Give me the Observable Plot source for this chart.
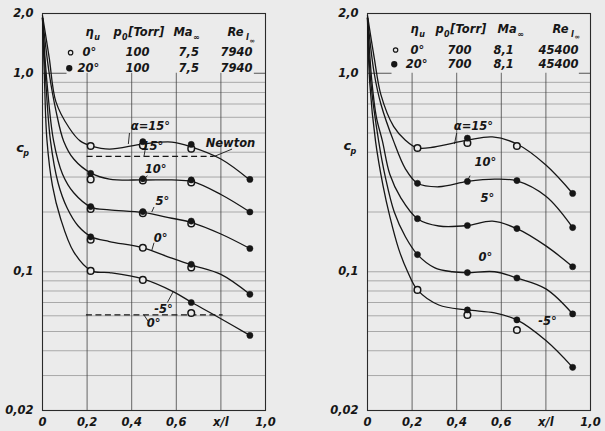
<!DOCTYPE html>
<html><head><meta charset="utf-8">
<script src="https://cdn.jsdelivr.net/npm/d3@7"></script>
<script src="https://cdn.jsdelivr.net/npm/@observablehq/plot@0.6"></script>
<style>
html,body{margin:0;padding:0;background:#ebebeb;}
#wrap{display:flex;width:605px;height:431px;overflow:hidden;}
svg{display:block;}
</style></head><body><div id="wrap"></div>
<script>
// ---------- shared ----------
const alphas = ["15°","10°","5°","0°","-5°"];
const xTickValues = [0, 0.2, 0.4, 0.6, 0.8, 1.0];
const xTickLabels = ["0", "0,2", "0,4", "0,6", "x/l", "1,0"];
const yTickValues = [0.02, 0.1, 1.0, 2.0];
const yTickLabels = ["0,02", "0,1", "1,0", "2,0"];
const minorGrid = [0.03,0.04,0.05,0.06,0.07,0.08,0.09,0.1,0.2,0.3,0.4,0.5,0.6,0.7,0.8,0.9];
const vGrid = [0.2, 0.4, 0.6, 0.8];

// ---------- left panel (p0 = 100 Torr) ----------
const leftCurve15 = [[0,1.95],[0.03,1.2],[0.06,0.72],[0.12,0.53],[0.17,0.455],[0.22,0.43],[0.3,0.415],[0.45,0.44],[0.58,0.45],[0.67,0.425],[0.8,0.37],[0.93,0.29]];
const leftCurve10 = [[0,1.9],[0.03,1.0],[0.06,0.65],[0.095,0.455],[0.14,0.37],[0.22,0.313],[0.3,0.293],[0.45,0.29],[0.58,0.29],[0.67,0.285],[0.8,0.245],[0.93,0.2]];
const leftCurve5  = [[0,1.9],[0.02,0.9],[0.05,0.455],[0.09,0.31],[0.14,0.25],[0.22,0.211],[0.3,0.205],[0.45,0.199],[0.58,0.186],[0.67,0.177],[0.8,0.155],[0.93,0.131]];
const leftCurve0  = [[0,1.9],[0.015,0.9],[0.036,0.455],[0.07,0.28],[0.11,0.21],[0.16,0.17],[0.22,0.15],[0.3,0.142],[0.45,0.132],[0.58,0.117],[0.67,0.108],[0.8,0.097],[0.93,0.077]];
const leftCurveM5 = [[0,1.9],[0.008,1.0],[0.02,0.46],[0.045,0.27],[0.08,0.187],[0.14,0.126],[0.22,0.101],[0.3,0.099],[0.45,0.092],[0.59,0.079],[0.67,0.07],[0.8,0.058],[0.93,0.0478]];
const leftMarkX = [0.216, 0.45, 0.667, 0.93];
const leftOpen = [
  [0.43, 0.432, 0.417, null],
  [0.292, 0.288, 0.282, null],
  [0.207, 0.197, 0.175, null],
  [0.145, 0.132, 0.105, null],
  [0.101, 0.091, 0.062, null]];
const leftFilled = [
  [null, 0.452, 0.438, 0.292],
  [0.313, 0.294, 0.29, 0.2],
  [0.213, 0.201, 0.18, 0.131],
  [0.15, null, 0.109, 0.077],
  [null, null, 0.07, 0.0478]];
const leftNewtonY = [0.381, 0.0606];
const leftNewtonX1 = [0.2, 0.197];
const leftNewtonX2 = [0.77, 0.81];
const leftLegendRows = [["0°","100","7,5","7940"],["20°","100","7,5","7940"]];
const leftCurveLabels = ["α=15°","10°","5°","0°","-5°","15°","0°","Newton"];
const leftCurveLabelX = [0.484, 0.507, 0.538, 0.53, 0.543, 0.493, 0.498, 0.843];
const leftCurveLabelY = [0.54, 0.327, 0.226, 0.147, 0.0646, 0.428, 0.055, 0.442];
const leftLeaders = [[0.39,0.5,0.385,0.44],[0.47,0.305,0.455,0.29],[0.5,0.212,0.49,0.2],[0.5,0.14,0.49,0.128],[0.56,0.07,0.585,0.079],[0.455,0.0606,0.475,0.056],[0.46,0.41,0.455,0.381],[0.85,0.415,0.77,0.381]];

// ---------- right panel (p0 = 700 Torr) ----------
const rightCurve15 = [[0,1.95],[0.03,1.2],[0.06,0.78],[0.117,0.54],[0.17,0.46],[0.224,0.42],[0.3,0.425],[0.448,0.46],[0.56,0.478],[0.67,0.44],[0.8,0.345],[0.92,0.248]];
const rightCurve10 = [[0,1.9],[0.03,1.0],[0.06,0.7],[0.117,0.455],[0.17,0.33],[0.224,0.279],[0.32,0.268],[0.448,0.285],[0.57,0.293],[0.67,0.287],[0.8,0.24],[0.92,0.167]];
const rightCurve5  = [[0,1.9],[0.02,0.9],[0.04,0.6],[0.067,0.455],[0.1,0.31],[0.15,0.235],[0.224,0.185],[0.32,0.17],[0.448,0.171],[0.56,0.18],[0.67,0.165],[0.8,0.135],[0.92,0.106]];
const rightCurve0  = [[0,1.9],[0.015,0.9],[0.05,0.455],[0.08,0.3],[0.12,0.2],[0.17,0.15],[0.224,0.122],[0.3,0.105],[0.38,0.1],[0.448,0.099],[0.57,0.1],[0.67,0.093],[0.8,0.082],[0.92,0.0613]];
const rightCurveM5 = [[0,1.9],[0.01,0.9],[0.036,0.455],[0.07,0.27],[0.1,0.19],[0.14,0.13],[0.18,0.1],[0.224,0.081],[0.32,0.068],[0.448,0.0642],[0.57,0.062],[0.67,0.0572],[0.8,0.045],[0.92,0.033]];
const rightMarkX = [0.224, 0.448, 0.67, 0.92];
const rightOpen = [
  [0.42, 0.445, 0.43, null],
  [null, null, null, null],
  [null, null, null, null],
  [null, null, null, null],
  [0.081, 0.0606, 0.0509, null]];
const rightFilled = [
  [null, 0.471, null, 0.248],
  [0.279, 0.285, 0.288, 0.167],
  [0.185, 0.171, 0.165, 0.106],
  [0.122, 0.099, 0.093, 0.0613],
  [null, 0.0642, 0.0572, 0.033]];
const rightLegendRows = [["0°","700","8,1","45400"],["20°","700","8,1","45400"]];
const rightCurveLabels = ["α=15°","10°","5°","0°","-5°"];
const rightCurveLabelX = [0.475, 0.529, 0.538, 0.529, 0.807];
const rightCurveLabelY = [0.54, 0.355, 0.234, 0.118, 0.0561];
const rightLeaders = [[0.4,0.5,0.39,0.44],[0.46,0.305,0.45,0.29]];

// legend table layout (shared, data units)
const legendHeadX = [0.193, 0.318, 0.587, 0.83];
const legendHead = ["η", "p", "Ma", "Re"];
const legendSubX = [0.232, 0.356, 0.675, 0.912];
const legendSub = ["u", "0", "∞", "l"];
const legendTorrX = 0.384;
const legendSub2X = 0.928;
const legendColX = [0.179, 0.372, 0.61, 0.798];

const FONT = "'DejaVu Sans', sans-serif";
const INK = "#161616";

function panel(cfg) {
  const curves = [cfg.c15, cfg.c10, cfg.c5, cfg.c0, cfg.cm5];
  const lineData = curves.flatMap((c, i) => c.map(([x, y]) => ({x, y, a: alphas[i]})));
  const openData = cfg.open.flatMap((row) => row.map((v, j) => ({x: cfg.markX[j], y: v})).filter(d => d.y != null));
  const fillData = cfg.filled.flatMap((row) => row.map((v, j) => ({x: cfg.markX[j], y: v})).filter(d => d.y != null));
  const labels = cfg.labels.map((t, i) => ({t, x: cfg.labelX[i], y: cfg.labelY[i]}));
  const leaders = cfg.leaders.map(([x1, y1, x2, y2]) => ({x1, y1, x2, y2}));
  const newton = (cfg.newtonY || []).map((y, i) => ({y, x1: cfg.newtonX1[i], x2: cfg.newtonX2[i]}));
  const head = legendHead.map((t, i) => ({t, x: legendHeadX[i] + cfg.dxHead[i]}));
  const sub = legendSub.map((t, i) => ({t, x: legendSubX[i] + cfg.dxHead[i]}));
  const rows = cfg.rows.flatMap((r, i) => r.map((t, j) => ({t, x: legendColX[j] + cfg.dxCol[j] - (i === 1 && j === 0 ? 0.022 : 0), y: cfg.rowY[i]})));
  const txt = {fontFamily: FONT, fontStyle: "italic", fill: INK};
  const hy = cfg.headY;
  return Plot.plot({
    width: cfg.width, height: 431,
    marginLeft: cfg.ml, marginRight: cfg.mr, marginTop: 13, marginBottom: 21,
    style: {background: "transparent", fontFamily: FONT, fontStyle: "italic", fontSize: "11.5px", color: INK},
    x: {domain: [0, 1], axis: null},
    y: {type: "log", domain: [0.02, 2], axis: null},
    marks: [
      Plot.ruleY(minorGrid, {x1: 0, x2: 1, stroke: "#8c8c8c", strokeWidth: 0.7}),
      Plot.ruleX(vGrid, {y1: 0.02, y2: 1.0, stroke: "#444", strokeWidth: 0.8, strokeDasharray: d => (cfg.dotted && d !== 0.6) ? "1.5,4" : null}),
      Plot.ruleY([1.0], {x1: 0, x2: 0.11, stroke: "#444", strokeWidth: 0.9}),
      Plot.ruleY([1.0], {x1: 0.95, x2: 1.0, stroke: "#444", strokeWidth: 0.9}),
      Plot.frame({stroke: "#2a2a2a", strokeWidth: 1.1}),
      Plot.axisX({ticks: xTickValues, tickSize: 0, tickPadding: 7, tickFormat: d => xTickLabels[xTickValues.indexOf(d)], fontSize: "11.5px", fontWeight: "bold", label: null}),
      Plot.axisY({ticks: yTickValues, tickSize: 0, tickPadding: 9, tickFormat: d => yTickLabels[yTickValues.indexOf(d)], fontSize: "11.5px", fontWeight: "bold", label: null}),
      Plot.text(["c"], {x: cfg.cpX, y: cfg.cpY, text: d => d, ...txt, fontSize: 13, fontWeight: "bold"}),
      Plot.text(["p"], {x: cfg.cpX, y: cfg.cpY, text: d => d, ...txt, fontSize: 8, fontWeight: "bold", dx: 6, dy: 5}),
      Plot.ruleY(newton, {y: "y", x1: "x1", x2: "x2", stroke: INK, strokeWidth: 1.2, strokeDasharray: "6,3.5"}),
      Plot.line(lineData, {x: "x", y: "y", z: "a", curve: "catmull-rom", stroke: INK, strokeWidth: 1.3}),
      Plot.link(leaders, {x1: "x1", y1: "y1", x2: "x2", y2: "y2", stroke: INK, strokeWidth: 0.9}),
      Plot.dot(openData, {x: "x", y: "y", r: 3.3, fill: "#ebebeb", stroke: INK, strokeWidth: 1.5}),
      Plot.dot(fillData, {x: "x", y: "y", r: 3.1, fill: INK, stroke: INK, strokeWidth: 0.5}),
      Plot.text(labels, {x: "x", y: "y", text: "t", ...txt, fontSize: 11.5, fontWeight: "bold"}),
      Plot.text(head, {x: "x", y: hy, text: "t", ...txt, fontSize: 11.5, fontWeight: "bold", textAnchor: "start"}),
      Plot.text(sub, {x: "x", y: hy, text: "t", ...txt, fontSize: 8, fontWeight: "bold", textAnchor: "start", dy: 5}),
      Plot.text(["[Torr]"], {x: legendTorrX + cfg.dxHead[1], y: hy, text: d => d, ...txt, fontSize: 11.5, fontWeight: "bold", textAnchor: "start"}),
      Plot.text(["∞"], {x: legendSub2X + cfg.dxHead[3], y: hy, text: d => d, ...txt, fontSize: 6.5, fontWeight: "bold", textAnchor: "start", dy: 8}),
      Plot.text(rows, {x: "x", y: "y", text: "t", ...txt, fontSize: 11.5, fontWeight: "bold", textAnchor: "start"}),
      Plot.dot([0], {x: 0.126, y: cfg.rowY[0], r: 2.2, fill: "#ebebeb", stroke: INK, strokeWidth: 1.2}),
      Plot.dot([0], {x: 0.12, y: cfg.rowY[1], r: 2.4, fill: INK, stroke: INK})
    ]
  });
}

const wrap = document.getElementById("wrap");
wrap.appendChild(panel({
  width: 300, ml: 42, mr: 35,
  c15: leftCurve15, c10: leftCurve10, c5: leftCurve5, c0: leftCurve0, cm5: leftCurveM5,
  markX: leftMarkX, open: leftOpen, filled: leftFilled,
  newtonY: leftNewtonY, newtonX1: leftNewtonX1, newtonX2: leftNewtonX2,
  rows: leftLegendRows, rowY: [1.27, 1.06], headY: 1.6,
  labels: leftCurveLabels, labelX: leftCurveLabelX, labelY: leftCurveLabelY, leaders: leftLeaders,
  dxHead: [0, 0, 0, 0], dxCol: [0, 0, 0, 0],
  cpX: -0.1, cpY: 0.42, dotted: false
}));
wrap.appendChild(panel({
  width: 305, ml: 67, mr: 15,
  c15: rightCurve15, c10: rightCurve10, c5: rightCurve5, c0: rightCurve0, cm5: rightCurveM5,
  markX: rightMarkX, open: rightOpen, filled: rightFilled,
  newtonY: [], newtonX1: [], newtonX2: [],
  rows: rightLegendRows, rowY: [1.31, 1.11], headY: 1.67,
  labels: rightCurveLabels, labelX: rightCurveLabelX, labelY: rightCurveLabelY, leaders: rightLeaders,
  dxHead: [0, -0.013, -0.004, 0], dxCol: [0.014, -0.013, -0.045, -0.031],
  cpX: -0.09, cpY: 0.43, dotted: true
}));
</script></body></html>
